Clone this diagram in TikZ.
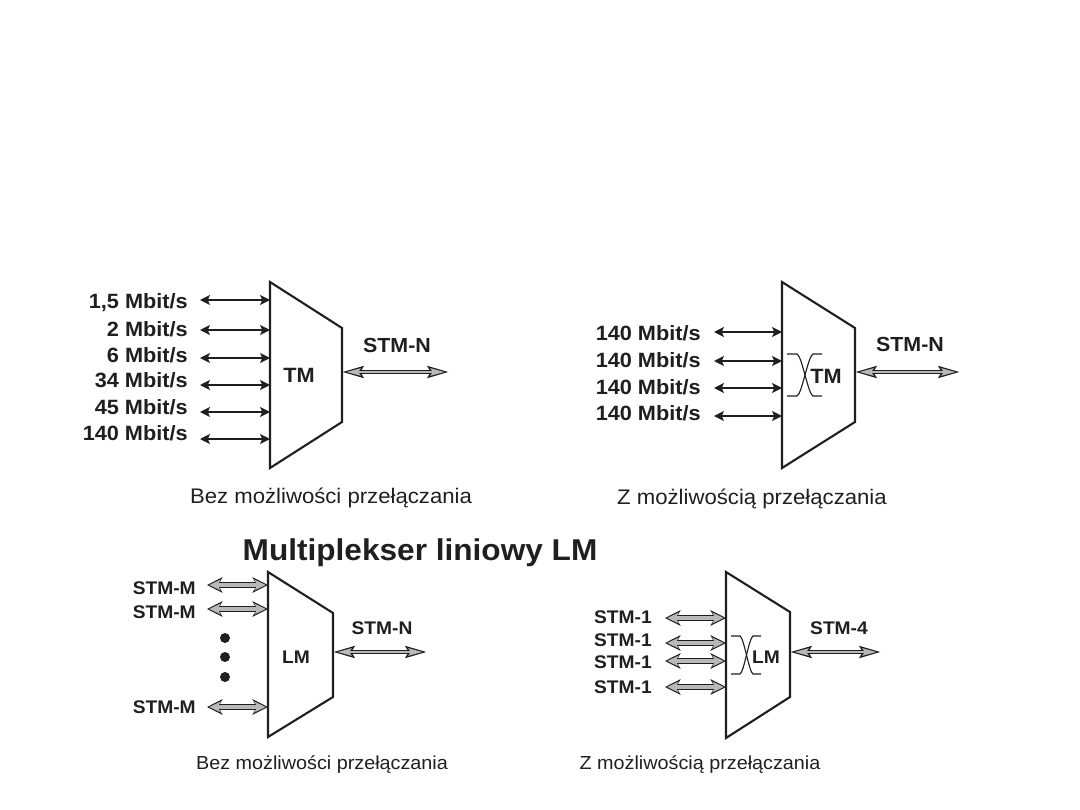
\documentclass[tikz,border=0pt]{standalone}
\usepackage{fontspec}
\setmainfont{Liberation Sans}
\newfontfamily\widefont[FakeStretch=1.05]{Liberation Sans}
\usetikzlibrary{arrows.meta}
\definecolor{arrowgray}{gray}{0.72}
\definecolor{inkgray}{gray}{0.12}
\tikzset{
  mux/.style={draw=inkgray,line width=1.5pt,line join=miter},
  rate/.style={anchor=east,text=inkgray,font=\widefont\fontsize{14.7}{16}\selectfont\bfseries,inner sep=0pt},
  stm/.style={text=inkgray,font=\widefont\fontsize{13}{14}\selectfont\bfseries,inner sep=0pt},
  stmright/.style={text=inkgray,font=\widefont\fontsize{14.5}{16}\selectfont\bfseries,inner sep=0pt},
  note/.style={text=inkgray,font=\widefont\fontsize{15}{17}\selectfont,inner sep=0pt},
  smallnote/.style={text=inkgray,font=\widefont\fontsize{13.4}{15}\selectfont,inner sep=0pt},
  thinlink/.style={inkgray,line width=1.2pt,{Stealth[length=7pt,width=7pt,inset=1.5pt]}-{Stealth[length=7pt,width=7pt,inset=1.5pt]}},
  boldlink/.style={thinlink,line width=1.8pt},
  fatlink/.style={inkgray,line width=4.2pt,{Stealth[length=11pt,width=11pt,inset=3pt]}-{Stealth[length=11pt,width=11pt,inset=3pt]},
    postaction={draw=arrowgray,line width=2.6pt,shorten <=1.6pt,shorten >=1.6pt,
      {Stealth[length=8pt,width=7.6pt,inset=2pt]}-{Stealth[length=8pt,width=7.6pt,inset=2pt]}}},
  outlink/.style={inkgray,line width=3.4pt,{Stealth[length=15pt,width=8pt,inset=2pt]}-{Stealth[length=15pt,width=8pt,inset=2pt]},
    postaction={draw=arrowgray,line width=2pt,shorten <=3pt,shorten >=3pt,
      {Stealth[length=10pt,width=5pt,inset=1.5pt]}-{Stealth[length=10pt,width=5pt,inset=1.5pt]}}},
  cross/.style={draw=inkgray,line width=.8pt}
}
\begin{document}
\begin{tikzpicture}[x=0.025cm,y=-0.025cm]
\useasboundingbox (0,0) rectangle (1080,810);

% terminal multiplexer without switching
\draw[mux] (270,282) -- (342,328) -- (342,422) -- (270,468) -- cycle;
\node[rate] (tmname) at (315,375) {TM};
\foreach \y/\ly/\t/\s [count=\i] in {300/303/{1,5}/thinlink,330/329/2/boldlink,358/355/6/thinlink,385/380/34/boldlink,412/407/45/thinlink,439/433/140/boldlink} {
  \node[rate] (tmrate\i) at (188,\ly) {\t{} Mbit/s};
  \coordinate (tmfree\i) at (200,\y);
  \coordinate (tmport\i) at (270,\y);
  \draw[\s] (tmfree\i) -- (tmport\i);
}
\coordinate (tmout) at (342,372);
\coordinate (tmline) at (449,372);
\draw[outlink] (tmout) -- (tmline);
\node[stmright] (tmstm) at (397,345) {STM-N};
\node[note] (tmnote) at (331,498) {Bez możliwości przełączania};

% terminal multiplexer with switching
\draw[mux] (782,282) -- (855,328) -- (855,422) -- (782,468) -- cycle;
\node[rate] (tmxname) at (842,376) {TM};
\draw[cross] (787,354) -- (797,354) .. controls (802,356) and (808,394) .. (813,396) -- (822,396);
\draw[cross] (787,396) -- (797,396) .. controls (802,394) and (808,356) .. (813,354) -- (822,354);
\foreach \y/\ly/\s [count=\i] in {332/333/thinlink,361/360/boldlink,388/387/thinlink,416/413/boldlink} {
  \node[rate] (tmxrate\i) at (701,\ly) {140 Mbit/s};
  \coordinate (tmxfree\i) at (714,\y);
  \coordinate (tmxport\i) at (782,\y);
  \draw[\s] (tmxfree\i) -- (tmxport\i);
}
\coordinate (tmxout) at (855,372);
\coordinate (tmxline) at (960,372);
\draw[outlink] (tmxout) -- (tmxline);
\node[stmright] (tmxstm) at (910,344) {STM-N};
\node[note] (tmxnote) at (752,499) {Z możliwością przełączania};

\node[text=inkgray,font=\widefont\fontsize{21.4}{24}\selectfont\bfseries,inner sep=0pt] (title) at (420,553) {Multiplekser liniowy LM};

% line multiplexer without switching
\draw[mux] (268,572) -- (333,613) -- (333,697) -- (268,737) -- cycle;
\node[stm] (lmname) at (296,657) {LM};
\foreach \y/\ly [count=\i] in {585/588,609/612,707/707} {
  \node[stm,anchor=east] (lmstm\i) at (196,\ly) {STM-M};
  \coordinate (lmfree\i) at (207,\y);
  \coordinate (lmport\i) at (268,\y);
  \draw[fatlink] (lmfree\i) -- (lmport\i);
}
\foreach \y in {638,657,677} \fill[inkgray] (225,\y) circle (5);
\coordinate (lmout) at (333,652);
\coordinate (lmline) at (427,652);
\draw[outlink] (lmout) -- (lmline);
\node[stm] (lmstmout) at (382,628) {STM-N};
\node[smallnote] (lmnote) at (322,765) {Bez możliwości przełączania};

% line multiplexer with switching
\draw[mux] (726,572) -- (790,612) -- (790,697) -- (726,738) -- cycle;
\node[stm] (lmxname) at (766,657) {LM};
\draw[cross] (731,636) -- (740,636) .. controls (744,638) and (749,672) .. (753,674) -- (761,674);
\draw[cross] (731,674) -- (740,674) .. controls (744,672) and (749,638) .. (753,636) -- (761,636);
\foreach \y/\ly [count=\i] in {618/617,643/640,661/662,687/687} {
  \node[stm,anchor=east] (lmxstm\i) at (652,\ly) {STM-1};
  \coordinate (lmxfree\i) at (665,\y);
  \coordinate (lmxport\i) at (726,\y);
  \draw[fatlink] (lmxfree\i) -- (lmxport\i);
}
\coordinate (lmxout) at (790,652);
\coordinate (lmxline) at (881,652);
\draw[outlink] (lmxout) -- (lmxline);
\node[stm] (lmxstmout) at (839,628) {STM-4};
\node[smallnote] (lmxnote) at (700,765) {Z możliwością przełączania};
\end{tikzpicture}
\end{document}
